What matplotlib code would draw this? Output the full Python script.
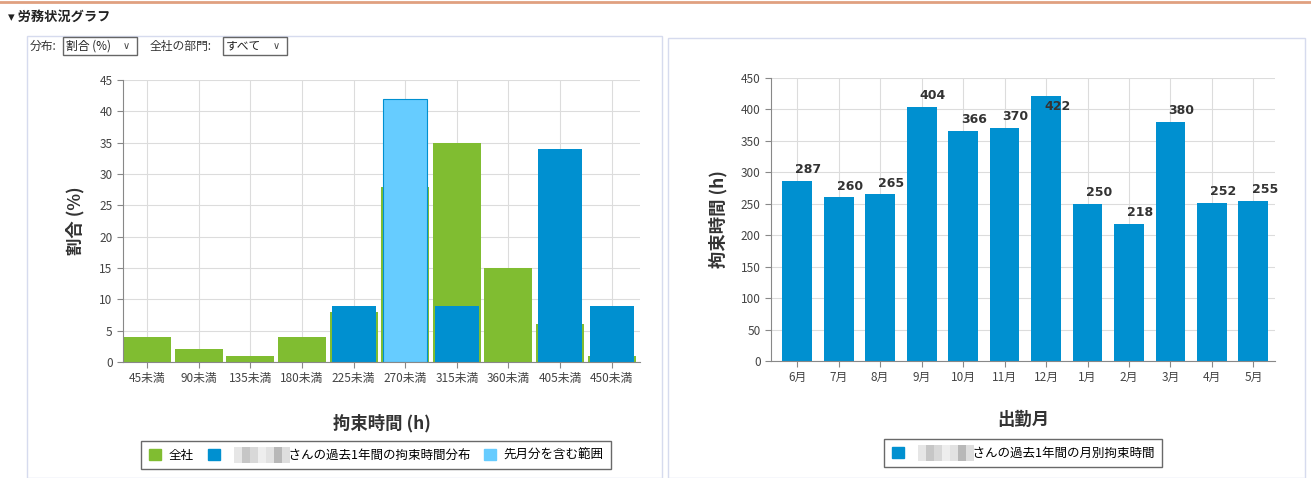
import matplotlib
matplotlib.use("Agg")
import matplotlib.pyplot as plt
from matplotlib.patches import Rectangle, Patch
import numpy as np

plt.rcParams['font.family'] = ['Noto Sans CJK JP', 'DejaVu Sans']

# left chart: distribution of hours
bins = ['45未満', '90未満', '135未満', '180未満', '225未満',
        '270未満', '315未満', '360未満', '405未満', '450未満']
company = [4, 2, 1, 4, 8, 28, 35, 15, 6, 1]
person = [0, 0, 0, 0, 9, 42, 9, 0, 34, 9]
last_month_bin = '270未満'

# right chart: monthly hours
months = ['6月', '7月', '8月', '9月', '10月', '11月',
          '12月', '1月', '2月', '3月', '4月', '5月']
hours = [287, 260, 265, 404, 366, 370, 422, 250, 218, 380, 252, 255]

GREEN = '#80bd31'
BLUE = '#0090d0'
LIGHT = '#66ccff'
GRID = '#dcdcdc'
W, H = 1311, 478

fig = plt.figure(figsize=(W / 100, H / 100), dpi=100)


def fx(px):
    return px / W


def fy(py):
    return 1 - py / H


# page header
fig.add_artist(plt.Line2D([0, 1], [fy(1.5), fy(1.5)], color='#e0a080', lw=2))
fig.text(fx(8), fy(17), '▾ 労務状況グラフ', fontsize=9.5, fontweight='bold',
         va='center', color='#222', family=['Noto Sans CJK JP', 'DejaVu Sans'])

# panel frames
for x0, y0, x1 in [(27, 36, 662), (668, 38, 1305)]:
    fig.add_artist(Rectangle((fx(x0), 0), fx(x1 - x0), fy(y0),
                             transform=fig.transFigure, fill=False,
                             edgecolor='#d6dbee', lw=1))

# dropdown controls
fig.text(fx(30), fy(46), '分布:', fontsize=8.5, va='center', color='#333')
fig.add_artist(Rectangle((fx(63), fy(55)), fx(74), fy(37) - fy(55),
                         transform=fig.transFigure, fill=False,
                         edgecolor='#666', lw=1))
fig.text(fx(66), fy(46), '割合 (%)', fontsize=8.5, va='center', color='#222')
fig.text(fx(126), fy(46), '∨', fontsize=7, va='center', ha='center',
         color='#444', family='DejaVu Sans')
fig.text(fx(150), fy(46), '全社の部門:', fontsize=8.5, va='center', color='#333')
fig.add_artist(Rectangle((fx(223), fy(55)), fx(64), fy(37) - fy(55),
                         transform=fig.transFigure, fill=False,
                         edgecolor='#666', lw=1))
fig.text(fx(226), fy(46), 'すべて', fontsize=8.5, va='center', color='#222')
fig.text(fx(276), fy(46), '∨', fontsize=7, va='center', ha='center',
         color='#444', family='DejaVu Sans')


def style_axes(ax):
    ax.set_axisbelow(True)
    ax.grid(True, color=GRID, lw=0.8)
    for s in ['top', 'right']:
        ax.spines[s].set_visible(False)
    for s in ['left', 'bottom']:
        ax.spines[s].set_color('#888')
    ax.tick_params(axis='both', labelsize=8.5, colors='#888',
                   labelcolor='#444', length=4)


# ---- left chart ----
ax1 = fig.add_axes([fx(123), fy(362), fx(517), fy(80) - fy(362)])
x = np.arange(len(bins))
ax1.bar(x, company, width=0.93, color=GREEN)
person_colors = [LIGHT if b == last_month_bin else BLUE for b in bins]
ax1.bar(x, person, width=0.85, color=person_colors,
        edgecolor=[BLUE if c == LIGHT else 'none' for c in person_colors],
        lw=0.8)
ax1.set_xlim(-0.47, 9.55)
ax1.set_ylim(0, 45)
ax1.set_yticks(range(0, 46, 5))
ax1.set_xticks(x)
ax1.set_xticklabels(bins)
style_axes(ax1)
ax1.set_ylabel('割合 (%)', fontsize=12.5, fontweight='bold', color='#333')
ax1.yaxis.set_label_coords((84 - 123) / 517, 0.5)
ax1.set_xlabel('拘束時間 (h)', fontsize=12.5, fontweight='bold', color='#333')
ax1.xaxis.set_label_coords(0.5, (362 - 414) / 282)

NAME_GAP = ' ' * 22
leg1 = ax1.legend(handles=[Patch(color=GREEN, label='全社'),
                           Patch(color=BLUE, label=NAME_GAP + 'さんの過去1年間の拘束時間分布'),
                           Patch(color=LIGHT, label='先月分を含む範囲')],
                  loc='center', bbox_to_anchor=(0.49, (362 - 455) / 282), ncol=3,
                  fontsize=9, frameon=True, fancybox=False, handlelength=1,
                  handleheight=1, handletextpad=0.6, columnspacing=1.1,
                  borderpad=0.6, edgecolor='#444')
leg1.get_frame().set_linewidth(1)

# ---- right chart ----
ax2 = fig.add_axes([fx(771), fy(361), fx(504), fy(78) - fy(361)])
xm = np.arange(len(months))
ax2.bar(xm, hours, width=0.72, color=BLUE)
ax2.set_xlim(-0.63, 11.52)
ax2.set_ylim(0, 450)
ax2.set_yticks(range(0, 451, 50))
ax2.set_xticks(xm)
ax2.set_xticklabels(months)
style_axes(ax2)
for xi, v in zip(xm, hours):
    ly = v + 18 if v + 18 < 432 else v - 18
    ax2.text(xi + 0.27, ly, str(v), ha='center', va='center', fontsize=9,
             fontweight='bold', color='#333',
             family=['Liberation Sans Narrow', 'DejaVu Sans'])
ax2.set_ylabel('拘束時間 (h)', fontsize=12.5, fontweight='bold', color='#333')
ax2.yaxis.set_label_coords((727 - 771) / 504, 0.5)
ax2.set_xlabel('出勤月', fontsize=12.5, fontweight='bold', color='#333')
ax2.xaxis.set_label_coords(0.5, (361 - 411) / 283)

leg2 = ax2.legend(handles=[Patch(color=BLUE, label=NAME_GAP + 'さんの過去1年間の月別拘束時間')],
                  loc='center', bbox_to_anchor=(0.5, (361 - 453) / 283),
                  fontsize=9, frameon=True, fancybox=False, handlelength=1,
                  handleheight=1, handletextpad=0.6, borderpad=0.6,
                  edgecolor='#444')
leg2.get_frame().set_linewidth(1)

# blurred name mosaic placed over the blank start of the legend labels
fig.canvas.draw()
renderer = fig.canvas.get_renderer()
shades = ['#e6e6e6', '#c6c6c6', '#d8d8d8', '#eeeeee', '#e2e2e2', '#b8b8b8', '#dedede']
for txt in [leg1.get_texts()[1], leg2.get_texts()[0]]:
    bb = txt.get_window_extent(renderer)
    x0 = bb.x0 + 6
    yc = (bb.y0 + bb.y1) / 2
    for i, c in enumerate(shades):
        fig.add_artist(Rectangle((x0 / W + i * 8 / W, (yc - 8) / H), 8 / W, 16 / H,
                                 transform=fig.transFigure, color=c, lw=0))

fig.savefig('out.png', dpi=100)
